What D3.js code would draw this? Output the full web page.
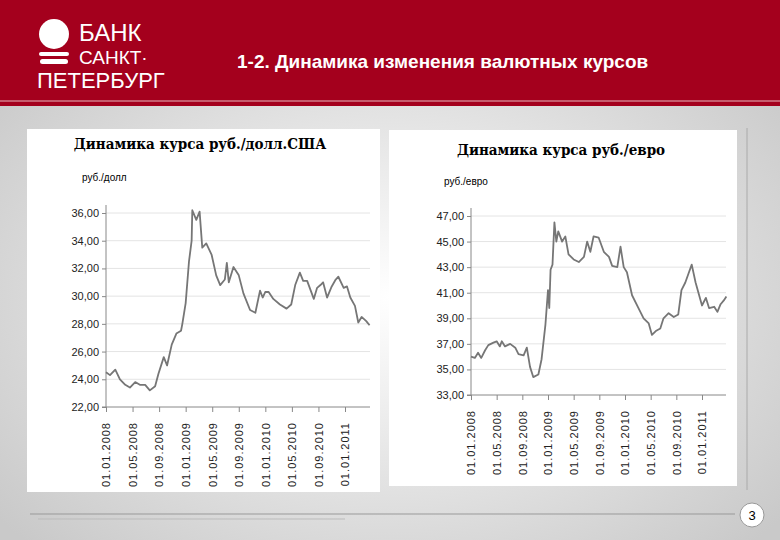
<!DOCTYPE html>
<html><head><meta charset="utf-8">
<script src="https://cdn.jsdelivr.net/npm/d3@7"></script>
<style>body{margin:0;overflow:hidden}</style>
</head><body>
<script>
// data: month offsets from 01.01.2008 and rates
const usdMonths = [0,0.6,1.4,2.1,2.9,3.6,4.4,5.1,5.9,6.6,7.4,7.9,8.7,9.2,9.9,10.6,11.3,11.5,12,12.5,12.9,13,13.6,14.1,14.5,15.1,15.9,16.6,17.2,17.9,18.2,18.5,19.2,20,20.7,21.7,22.5,23.2,23.6,24,24.5,25.2,26.2,27.2,27.9,28.5,29.2,29.7,30.3,31.3,31.8,32.3,32.7,33.3,34,34.6,35,35.8,36.3,36.8,37.5,38,38.5,39.2,39.7]
const usdValues = [24.5,24.3,24.7,24.0,23.6,23.4,23.8,23.6,23.6,23.2,23.5,24.4,25.6,25.0,26.5,27.3,27.5,28.0,29.5,32.5,34.0,36.2,35.5,36.1,33.5,33.8,33.0,31.5,30.8,31.2,32.4,31.0,32.1,31.5,30.2,29.0,28.8,30.4,29.9,30.3,30.3,29.8,29.4,29.1,29.4,30.8,31.7,31.1,31.1,29.8,30.6,30.8,31.0,29.9,30.7,31.2,31.4,30.6,30.7,29.9,29.3,28.1,28.5,28.2,27.9]
const eurMonths = [0,0.6,1.1,1.6,2.2,2.7,3.5,4,4.5,4.8,5.3,6.1,6.9,7.4,8.2,8.7,9.2,9.7,10.5,11,11.6,12,12.2,12.4,12.7,13,13.3,13.6,14.2,14.7,15.2,16,16.8,17.6,18.1,18.6,19.1,19.9,20.7,21.5,22,22.8,23.3,23.8,24.3,25.1,26.1,26.9,27.7,28.2,28.8,29.5,30,30.8,31.6,32.3,32.8,33.4,33.9,34.4,35,35.5,36,36.6,37.1,37.9,38.4,38.9,39.4,39.8]
const eurValues = [36.0,35.9,36.3,35.9,36.5,36.9,37.1,37.2,36.8,37.2,36.8,37.0,36.7,36.2,36.1,36.7,35.2,34.4,34.6,35.8,38.5,41.2,39.8,42.8,43.2,46.5,45.0,45.8,45.0,45.4,44.0,43.6,43.4,43.8,45.0,44.2,45.4,45.3,44.2,43.8,43.1,43.0,44.6,43.0,42.6,40.8,39.8,39.0,38.6,37.7,38.0,38.2,39.0,39.4,39.1,39.3,41.2,41.8,42.5,43.2,41.8,40.9,40.0,40.6,39.8,39.9,39.5,40.1,40.4,40.7]
const dateTicks = ['01.01.2008','01.05.2008','01.09.2008','01.01.2009','01.05.2009','01.09.2009','01.01.2010','01.05.2010','01.09.2010','01.01.2011']
const usdTicks = [22,24,26,28,30,32,34,36]
const eurTicks = [33,35,37,39,41,43,45,47]

const W = 780, H = 540
const svg = d3.select('body').append('svg').attr('width', W).attr('height', H)

// background
const defs = svg.append('defs')
const rg = defs.append('radialGradient').attr('id', 'bg').attr('cx', '50%').attr('cy', '55%').attr('r', '65%')
rg.append('stop').attr('offset', '0%').attr('stop-color', '#ffffff')
rg.append('stop').attr('offset', '100%').attr('stop-color', '#c9c9c9')
svg.append('rect').attr('width', W).attr('height', H).attr('fill', 'url(#bg)')

// header
svg.append('rect').attr('width', W).attr('height', 106).attr('fill', '#a4001d')
svg.append('line').attr('x1', 0).attr('x2', W).attr('y1', 101).attr('y2', 101).attr('stroke', '#e8b8c0').attr('stroke-width', 1)
svg.append('circle').attr('cx', 54).attr('cy', 34).attr('r', 15).attr('fill', '#fff')
svg.append('rect').attr('x', 39).attr('y', 52).attr('width', 30).attr('height', 4).attr('rx', 2).attr('fill', '#fff')
svg.append('rect').attr('x', 40).attr('y', 59).attr('width', 28).attr('height', 5).attr('rx', 2.5).attr('fill', '#fff')
const logo = svg.append('g').attr('fill', '#fff').style('font-family', 'Liberation Sans Narrow, Liberation Sans, sans-serif')
logo.append('text').attr('x', 79).attr('y', 41).attr('font-size', 24).text('БАНК')
logo.append('text').attr('x', 79).attr('y', 64).attr('font-size', 19).text('САНКТ·')
logo.append('text').attr('x', 37).attr('y', 88).attr('font-size', 22).text('ПЕТЕРБУРГ')
svg.append('text').attr('x', 237).attr('y', 68).attr('fill', '#fff').attr('font-size', 19).attr('font-weight', 'bold')
  .style('font-family', 'Liberation Sans, Arial, sans-serif').text('1-2. Динамика изменения валютных курсов')

// footer
svg.append('line').attr('x1', 30).attr('x2', 735).attr('y1', 514).attr('y2', 514).attr('stroke', '#999')
svg.append('line').attr('x1', 38).attr('x2', 345).attr('y1', 519).attr('y2', 519).attr('stroke', '#bbb')
svg.append('line').attr('x1', 747).attr('x2', 747).attr('y1', 128).attr('y2', 490).attr('stroke', '#aaa')
svg.append('circle').attr('cx', 752).attr('cy', 515).attr('r', 12).attr('fill', '#fff').attr('stroke', '#999')
svg.append('text').attr('x', 752).attr('y', 520).attr('text-anchor', 'middle').attr('font-size', 13)
  .style('font-family', 'Liberation Sans, Arial, sans-serif').text('3')

const drawChart = (cfg) => {
  const g = svg.append('g')
  g.append('rect').attr('x', cfg.box[0]).attr('y', cfg.box[1]).attr('width', cfg.box[2]).attr('height', cfg.box[3]).attr('fill', '#fff')
  g.append('text').attr('x', cfg.titleX).attr('y', cfg.titleY).attr('text-anchor', 'middle')
    .attr('font-size', 15).attr('font-weight', 'bold').style('font-family', 'DejaVu Serif Condensed, DejaVu Serif, serif')
    .text(cfg.title)
  g.append('text').attr('x', cfg.unitX).attr('y', cfg.unitY).attr('font-size', 10)
    .style('font-family', 'Liberation Sans Narrow, Liberation Sans, sans-serif').text(cfg.unit)

  const x = d3.scaleLinear().domain([0, 36]).range([cfg.x0, cfg.x36])
  const y = d3.scaleLinear().domain(cfg.domain).range([cfg.yBottom, cfg.yTop])
  const xEnd = cfg.xEnd

  g.selectAll('.grid').data(cfg.ticks.slice(1)).join('line')
    .attr('x1', cfg.x0).attr('x2', xEnd).attr('y1', d => y(d)).attr('y2', d => y(d))
    .attr('stroke', '#e4e4e4')

  const ya = g.append('g').attr('transform', `translate(${cfg.x0},0)`)
    .call(d3.axisLeft(y).tickValues(cfg.ticks).tickSize(4).tickFormat(d => d3.format('.2f')(d).replace('.', ',')))
  ya.select('.domain').attr('stroke', '#888').attr('d', `M-4,${y(cfg.domain[0])}H0V${y(cfg.domain[1]) - 8}`)
  ya.selectAll('line').attr('stroke', '#888')
  ya.selectAll('text').attr('font-size', 11).style('font-family', 'Liberation Sans Narrow, Liberation Sans, sans-serif').attr('fill', '#222')

  const xa = g.append('g').attr('transform', `translate(0,${cfg.yBottom})`)
    .call(d3.axisBottom(x).tickValues(d3.range(0, 37, 4)).tickSize(5).tickFormat((d, i) => dateTicks[i]))
  xa.select('.domain').attr('stroke', '#888').attr('d', `M${cfg.x0},0H${xEnd}`)
  xa.selectAll('line').attr('stroke', '#888')
  xa.selectAll('text').attr('font-size', 11).attr('letter-spacing', 1.0)
    .style('font-family', 'Liberation Sans, Arial, sans-serif').attr('fill', '#222')
    .attr('transform', 'rotate(-90)').attr('text-anchor', 'end').attr('dy', '0.35em')
    .attr('x', -cfg.labelTop).attr('y', 0)

  const line = d3.line().x((d, i) => x(cfg.months[i])).y(d => y(d))
  g.append('path').datum(cfg.values).attr('d', line).attr('fill', 'none')
    .attr('stroke', '#767676').attr('stroke-width', 1.8).attr('stroke-linejoin', 'round')
}

drawChart({
  box: [27, 129, 353, 363], title: 'Динамика курса руб./долл.США', titleX: 200, titleY: 149,
  unit: 'руб./долл', unitX: 82, unitY: 181,
  x0: 106, x36: 345, xEnd: 370, yTop: 213, yBottom: 407, domain: [22, 36], ticks: usdTicks,
  months: usdMonths, values: usdValues, labelTop: 15
})
drawChart({
  box: [389, 130, 348, 356], title: 'Динамика курса руб./евро', titleX: 561, titleY: 155,
  unit: 'руб./евро', unitX: 444, unitY: 185,
  x0: 471, x36: 702, xEnd: 726, yTop: 216, yBottom: 395, domain: [33, 47], ticks: eurTicks,
  months: eurMonths, values: eurValues, labelTop: 15
})
</script>
</body></html>
